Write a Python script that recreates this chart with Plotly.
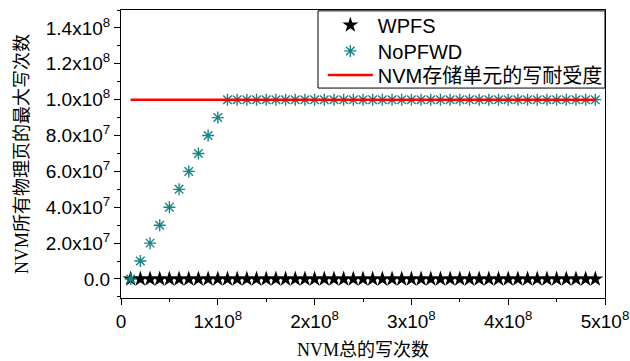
import plotly.graph_objects as go

# Total NVM writes, in units of 1e7
total_writes_1e7 = [1, 2, 3, 4, 5, 6, 7, 8, 9, 10,
                    11, 12, 13, 14, 15, 16, 17, 18, 19, 20,
                    21, 22, 23, 24, 25, 26, 27, 28, 29, 30,
                    31, 32, 33, 34, 35, 36, 37, 38, 39, 40,
                    41, 42, 43, 44, 45, 46, 47, 48, 49]
# Max page writes, in units of 1e7
wpfs_1e7 = [0, 0, 0, 0, 0, 0, 0, 0, 0, 0,
            0, 0, 0, 0, 0, 0, 0, 0, 0, 0,
            0, 0, 0, 0, 0, 0, 0, 0, 0, 0,
            0, 0, 0, 0, 0, 0, 0, 0, 0, 0,
            0, 0, 0, 0, 0, 0, 0, 0, 0]
nopfwd_1e7 = [0, 1, 2, 3, 4, 5, 6, 7, 8, 9,
              10, 10, 10, 10, 10, 10, 10, 10, 10, 10,
              10, 10, 10, 10, 10, 10, 10, 10, 10, 10,
              10, 10, 10, 10, 10, 10, 10, 10, 10, 10,
              10, 10, 10, 10, 10, 10, 10, 10, 10]
endurance_x_1e7 = [1, 49]
endurance_y_1e7 = [10, 10]

x_tick_vals = [0, 1e8, 2e8, 3e8, 4e8, 5e8]
x_tick_text = ["0", "1x10<sup>8</sup>", "2x10<sup>8</sup>", "3x10<sup>8</sup>",
               "4x10<sup>8</sup>", "5x10<sup>8</sup>"]
y_tick_vals = [0, 2e7, 4e7, 6e7, 8e7, 1.0e8, 1.2e8, 1.4e8]
y_tick_text = ["0.0", "2.0x10<sup>7</sup>", "4.0x10<sup>7</sup>", "6.0x10<sup>7</sup>",
               "8.0x10<sup>7</sup>", "1.0x10<sup>8</sup>", "1.2x10<sup>8</sup>",
               "1.4x10<sup>8</sup>"]

S = 1e7
x = [v * S for v in total_writes_1e7]

fig = go.Figure()
fig.add_trace(go.Scatter(
    x=x, y=[v * S for v in wpfs_1e7], mode="markers", name="WPFS", legend="legend",
    marker=dict(symbol="star", size=12, color="black", line=dict(width=0)),
))
fig.add_trace(go.Scatter(
    x=x, y=[v * S for v in nopfwd_1e7], mode="lines+markers", name="NoPFWD", legend="legend2",
    line=dict(color="white", width=1),
    marker=dict(symbol="asterisk-open", size=10, color="#178585",
                line=dict(width=1.4, color="#178585")),
))
fig.add_trace(go.Scatter(
    x=[v * S for v in endurance_x_1e7], y=[v * S for v in endurance_y_1e7],
    mode="lines", name="NVM存储单元的写耐受度", legend="legend3",
    line=dict(color="#ff0000", width=2.5),
))

axis_font = dict(family="Liberation Sans, Arial, sans-serif", size=19, color="black")
leg_font = dict(family="Liberation Sans, Noto Sans CJK SC, sans-serif", size=20, color="black")


def leg(yc):
    return dict(x=0.417, xanchor="left", y=yc, yanchor="middle",
                borderwidth=0, bgcolor="rgba(0,0,0,0)", font=leg_font, itemwidth=45)


fig.update_layout(
    width=630, height=361,
    margin=dict(l=121, r=25, t=10, b=63, autoexpand=False),
    plot_bgcolor="white", paper_bgcolor="white",
    showlegend=True,
    legend=leg(0.948),
    legend2=leg(0.858),
    legend3=leg(0.774),
    shapes=[dict(type="rect", xref="paper", yref="paper", x0=0.407, x1=1.0, y0=0.729, y1=0.997,
                 line=dict(color="black", width=1), fillcolor="white", layer="above")],
    xaxis=dict(range=[0, 5e8], tickvals=x_tick_vals, ticktext=x_tick_text, automargin=False,
               ticks="outside", ticklen=6, tickwidth=1, tickcolor="black",
               showline=True, linecolor="black", linewidth=1, mirror=True,
               showgrid=False, zeroline=False, tickfont=axis_font,
               minor=dict(dtick=5e7, tick0=0, ticks="outside", ticklen=3, tickcolor="black", showgrid=False)),
    yaxis=dict(range=[-1.06e7, 1.5e8], tickvals=y_tick_vals, ticktext=y_tick_text, automargin=False,
               ticks="outside", ticklen=6, tickwidth=1, tickcolor="black",
               showline=True, linecolor="black", linewidth=1, mirror=True,
               showgrid=False, zeroline=False, tickfont=axis_font,
               minor=dict(dtick=1e7, tick0=0, ticks="outside", ticklen=3, tickcolor="black", showgrid=False)),
    annotations=[
        dict(text="NVM所有物理页的最大写次数", xref="paper", yref="paper",
             x=0, y=0.5, xshift=-99, xanchor="center", yanchor="middle",
             textangle=-90, showarrow=False,
             font=dict(family="Liberation Serif, Noto Sans CJK SC, serif", size=18, color="black")),
        dict(text="NVM总的写次数", xref="paper", yref="paper",
             x=0.5, y=0, yshift=-52, xanchor="center", yanchor="middle",
             showarrow=False,
             font=dict(family="Liberation Serif, Noto Sans CJK SC, serif", size=18, color="black")),
    ],
)

fig.write_html("out.html")
